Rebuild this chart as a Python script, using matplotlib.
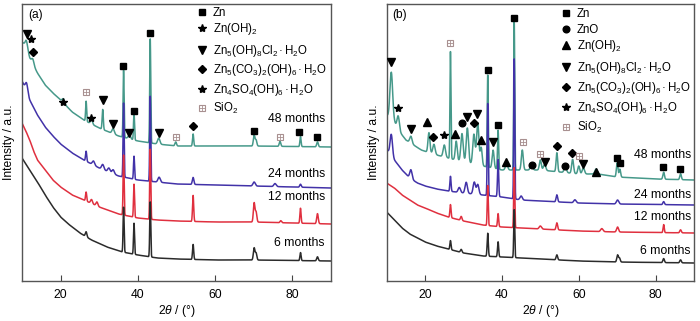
import numpy as np
import matplotlib
matplotlib.use("Agg")
import matplotlib.pyplot as plt

plt.rcParams['font.family'] = ['Liberation Sans', 'DejaVu Sans']
plt.rcParams['mathtext.fontset'] = 'custom'
plt.rcParams['mathtext.rm'] = 'Liberation Sans'
plt.rcParams['mathtext.it'] = 'Liberation Sans:italic'
plt.rcParams['mathtext.bf'] = 'Liberation Sans:bold'

# ---- baselines (2theta, intensity) and peak lists (2theta, height, width) ----
# panel (a)
a6_bt = [10, 12, 14, 16, 18, 20, 22, 25, 28, 32, 36, 40, 45, 50, 60, 70, 90]
a6_by = [123, 111, 99, 86, 74, 64, 57, 48, 41, 34, 29, 26, 23, 22, 21, 21, 20]
a6_pk = [(26.6, 5, 0.2), (36.3, 45, 0.13), (39.0, 31, 0.13), (43.2, 55, 0.13), (54.3, 15, 0.15),
         (70.1, 12, 0.2), (70.6, 7, 0.2), (82.1, 8, 0.15), (86.5, 4, 0.2)]

a12_bt = [10, 11, 12, 13, 14, 16, 18, 20, 23, 26, 30, 35, 40, 45, 50, 60, 70, 90]
a12_by = [158, 150, 141, 130, 121, 111, 101, 94, 86, 81, 74, 67, 63, 61, 60, 59, 59, 57]
a12_pk = [(26.6, 9, 0.15), (28.0, 4, 0.25), (29.4, 4, 0.25), (36.3, 60, 0.13), (39.0, 33, 0.13),
          (43.2, 70, 0.13), (54.3, 26, 0.15), (70.1, 19, 0.2), (70.6, 10, 0.2), (77.0, 2, 0.2),
          (82.1, 15, 0.15), (86.5, 10, 0.2)]

a24_bt = [10, 11, 12, 14, 16, 18, 20, 23, 26, 30, 35, 40, 45, 50, 60, 70, 90]
a24_by = [200, 192, 181, 166, 154, 145, 137, 128, 121, 113, 105, 101, 99, 97, 96, 95, 93]
a24_pk = [(11.2, 8, 0.3), (26.6, 10, 0.15), (28.5, 4, 0.3), (30.9, 5, 0.3), (32.5, 4, 0.3),
          (33.6, 4, 0.3), (36.3, 74, 0.13), (39.0, 23, 0.13), (43.2, 85, 0.13), (45.5, 5, 0.3),
          (54.3, 7, 0.2), (70.1, 4, 0.3), (75.5, 3, 0.3), (82.1, 3, 0.2)]

a48_bt = [10, 11, 12, 14, 16, 18, 20, 23, 26, 30, 35, 40, 45, 50, 60, 70, 90]
a48_by = [239, 236, 223, 208, 196, 188, 181, 169, 161, 153, 145, 140, 137, 135, 135, 135, 134]
a48_pk = [(11.2, 6, 0.3), (12.8, 5, 0.3), (20.7, 4, 0.3), (26.6, 20, 0.13), (28.0, 5, 0.25),
          (30.9, 20, 0.15), (33.6, 5, 0.3), (36.3, 67, 0.13), (37.8, 4, 0.3), (39.0, 27, 0.13),
          (43.2, 104, 0.13), (45.4, 6, 0.3), (49.8, 4, 0.2), (54.3, 12, 0.15), (70.1, 11, 0.2),
          (70.6, 6, 0.2), (76.8, 5, 0.2), (82.1, 10, 0.15), (86.5, 5, 0.2)]

# panel (b)
b6_bt = [10, 12, 14, 16, 18, 20, 23, 26, 30, 35, 40, 45, 50, 60, 70, 90]
b6_by = [69, 61, 53, 47, 43, 39, 35, 32, 28, 25, 24, 23, 22, 20, 19, 18]
b6_pk = [(26.6, 9, 0.15), (29.4, 3, 0.2), (36.3, 23, 0.15), (39.0, 15, 0.15), (43.2, 48, 0.13),
         (54.3, 5, 0.2), (70.1, 7, 0.2), (70.6, 4, 0.2), (82.1, 4, 0.2), (86.5, 3, 0.2)]

b12_bt = [10, 12, 14, 16, 18, 20, 23, 26, 30, 35, 40, 45, 50, 60, 70, 90]
b12_by = [98, 93, 86, 81, 76, 73, 68, 64, 60, 56, 54, 53, 52, 50, 49, 48]
b12_pk = [(26.6, 13, 0.15), (29.4, 4, 0.2), (36.3, 40, 0.13), (39.0, 13, 0.15), (43.2, 60, 0.13),
          (50.0, 3, 0.3), (54.3, 7, 0.2), (66.0, 3, 0.3), (70.1, 5, 0.25), (82.1, 8, 0.15),
          (86.5, 3, 0.2)]

b24_bt = [10, 11, 12, 14, 16, 18, 20, 23, 26, 30, 35, 40, 45, 50, 60, 70, 90]
b24_by = [131, 128, 121, 111, 103, 98, 95, 92, 90, 88, 86, 84, 81, 80, 78, 77, 76]
b24_pk = [(11.2, 20, 0.3), (16.3, 9, 0.3), (26.6, 15, 0.15), (28.9, 5, 0.3), (30.7, 11, 0.3),
          (32.8, 12, 0.3), (33.7, 10, 0.3), (36.3, 92, 0.13), (39.0, 37, 0.15), (43.2, 140, 0.13),
          (45.0, 4, 0.3), (54.3, 7, 0.2), (59.0, 3, 0.3), (70.1, 4, 0.3), (82.1, 3, 0.2)]

b48_bt = [10, 12, 13, 15, 17, 19, 22, 25, 28, 31, 35, 40, 45, 50, 55, 60, 65, 70, 80, 90]
b48_by = [166, 159, 151, 141, 136, 131, 127, 124, 121, 118, 115, 111, 111, 111, 109, 107, 107, 104, 102, 101]
b48_pk = [(11.2, 47, 0.35), (13.0, 14, 0.3), (16.3, 7, 0.3), (21.0, 20, 0.25), (22.3, 10, 0.3),
          (25.0, 12, 0.3), (26.6, 107, 0.13), (28.1, 19, 0.25), (29.6, 28, 0.3), (31.0, 35, 0.3),
          (32.7, 30, 0.3), (33.7, 42, 0.3), (34.6, 18, 0.25), (36.3, 92, 0.13), (37.7, 18, 0.25),
          (39.0, 39, 0.15), (41.2, 6, 0.3), (43.2, 148, 0.13), (45.3, 20, 0.25), (47.7, 6, 0.3),
          (50.0, 10, 0.25), (51.1, 6, 0.3), (54.3, 19, 0.2), (56.5, 6, 0.3), (58.4, 14, 0.25),
          (60.0, 8, 0.25), (61.2, 6, 0.3), (64.5, 5, 0.3), (70.0, 14, 0.2), (70.7, 8, 0.2),
          (82.1, 7, 0.2), (86.5, 6, 0.2)]

# ---- phase markers (2theta, y) ----
a_marks = {
    'Zn': [(36.2, 215), (39.0, 170), (43.2, 248), (70.1, 150), (81.8, 149), (86.3, 144)],
    'star': [(12.3, 242), (20.6, 179), (27.9, 163)],
    'chl': [(11.2, 247), (30.9, 181), (33.6, 157), (37.8, 148), (45.4, 148)],
    'carb': [(12.85, 229), (54.2, 155)],
    'sio2': [(26.6, 189), (49.8, 144), (76.8, 144)],
}
b_marks = {
    'Zn': [(36.4, 211), (39.0, 156), (43.1, 263), (70.0, 123), (70.7, 118), (81.8, 114), (86.4, 112)],
    'ZnO': [(29.6, 158), (47.8, 116), (56.3, 115)],
    'tri': [(20.6, 159), (27.9, 147), (34.5, 141), (41.1, 119), (64.5, 109)],
    'chl': [(11.1, 219), (16.3, 152), (31.0, 164), (33.6, 167), (37.7, 139), (51.1, 119), (61.1, 117)],
    'carb': [(22.1, 144), (32.8, 158), (54.3, 135), (58.3, 128)],
    'star': [(13.0, 173), (25.0, 146)],
    'sio2': [(26.6, 238), (45.5, 139), (49.8, 127), (60.0, 125)],
}

colors = {'6': '#2b2b2b', '12': '#e0303f', '24': '#4232a8', '48': '#46998a'}
sio2_col = '#a89090'

style = {
    'Zn': dict(marker='s', ms=4.3, color='k'),
    'ZnO': dict(marker='o', ms=4.8, color='k'),
    'tri': dict(marker='^', ms=5.2, color='k'),
    'chl': dict(marker='v', ms=5.5, color='k'),
    'carb': dict(marker='D', ms=4.2, color='k'),
    'star': dict(marker='*', ms=6, color='k'),
}


def pattern(tt, bt, by, peaks):
    y = np.interp(tt, bt, by)
    for p, h, w in peaks:
        y = y + h * np.exp(-0.5 * ((tt - p) / w) ** 2)
    return y


def draw_mark(ax, kind, x, y, **kw):
    if kind == 'sio2':
        ax.plot(x, y, 's', ms=5, mfc='white', mec=sio2_col, mew=0.8, ls='none', **kw)
        ax.plot(x, y, '+', ms=5, mec=sio2_col, mew=0.6, ls='none', **kw)
    else:
        ax.plot(x, y, ls='none', **style[kind], **kw)


def setup(ax):
    ax.set_xlim(10, 90)
    ax.set_ylim(0, 277)
    ax.set_xticks([20, 40, 60, 80])
    ax.set_yticks([])
    ax.tick_params(axis='x', direction='in', length=4, width=0.8, labelsize=8.7, pad=6, color='#444444')
    for s in ax.spines.values():
        s.set_color('#555555')
        s.set_linewidth(1.0)
    ax.set_xlabel('2$\\theta$ / (°)', fontsize=8.7, labelpad=1)
    ax.set_ylabel('Intensity / a.u.', fontsize=8.7, labelpad=5)


tt = np.arange(10, 90.001, 0.02)

fig = plt.figure(figsize=(7.0, 3.21), dpi=100)
ax1 = fig.add_axes([22 / 700, 40 / 321, 309 / 700, 277 / 321])
ax2 = fig.add_axes([386.7 / 700, 40 / 321, 307.3 / 700, 277 / 321])

# bottom curves drawn last so their spikes sit on top
for key, bt, by, pk in [('48', a48_bt, a48_by, a48_pk), ('24', a24_bt, a24_by, a24_pk),
                        ('12', a12_bt, a12_by, a12_pk), ('6', a6_bt, a6_by, a6_pk)]:
    ax1.plot(tt, pattern(tt, bt, by, pk), color=colors[key], lw=1.1)

for key, bt, by, pk in [('48', b48_bt, b48_by, b48_pk), ('24', b24_bt, b24_by, b24_pk),
                        ('12', b12_bt, b12_by, b12_pk), ('6', b6_bt, b6_by, b6_pk)]:
    ax2.plot(tt, pattern(tt, bt, by, pk), color=colors[key], lw=1.1)

for ax, marks in [(ax1, a_marks), (ax2, b_marks)]:
    for kind, pts in marks.items():
        xs = [p[0] for p in pts]
        ys = [p[1] for p in pts]
        draw_mark(ax, kind, xs, ys, zorder=5)
    setup(ax)

# legends
dot = '$\\,$·$\\,$'
leg_a = [('Zn', 'Zn', 269), ('star', 'Zn(OH)$_2$', 253),
         ('chl', 'Zn$_5$(OH)$_8$Cl$_2$' + dot + 'H$_2$O', 231),
         ('carb', 'Zn$_5$(CO$_3$)$_2$(OH)$_6$' + dot + 'H$_2$O', 212),
         ('star', 'Zn$_4$SO$_4$(OH)$_6$' + dot + 'H$_2$O', 192),
         ('sio2', 'SiO$_2$', 173)]
leg_b = [('Zn', 'Zn', 268), ('ZnO', 'ZnO', 252), ('tri', 'Zn(OH)$_2$', 236),
         ('chl', 'Zn$_5$(OH)$_8$Cl$_2$' + dot + 'H$_2$O', 214),
         ('carb', 'Zn$_5$(CO$_3$)$_2$(OH)$_6$' + dot + 'H$_2$O', 194),
         ('star', 'Zn$_4$SO$_4$(OH)$_6$' + dot + 'H$_2$O', 174),
         ('sio2', 'SiO$_2$', 154)]

for ax, items, mx, tx in [(ax1, leg_a, 56.5, 59.4), (ax2, leg_b, 56.7, 59.5)]:
    for kind, label, y in items:
        draw_mark(ax, kind, [mx], [y], clip_on=False)
        ax.text(tx, y - 4.2, label, fontsize=8.3, va='baseline', ha='left')

# curve labels
for ax, xr, ys in [(ax1, 88.4, [162, 107, 84, 38]), (ax2, 89.2, [126, 86, 64, 30])]:
    for lab, y in zip(['48 months', '24 months', '12 months', '6 months'], ys):
        ax.text(xr, y, lab, fontsize=8.8, ha='right', va='center')

ax1.text(11.5, 266, '(a)', fontsize=8.6, va='center')
ax2.text(11.4, 266, '(b)', fontsize=8.6, va='center')

fig.savefig('out.png', dpi=100)
